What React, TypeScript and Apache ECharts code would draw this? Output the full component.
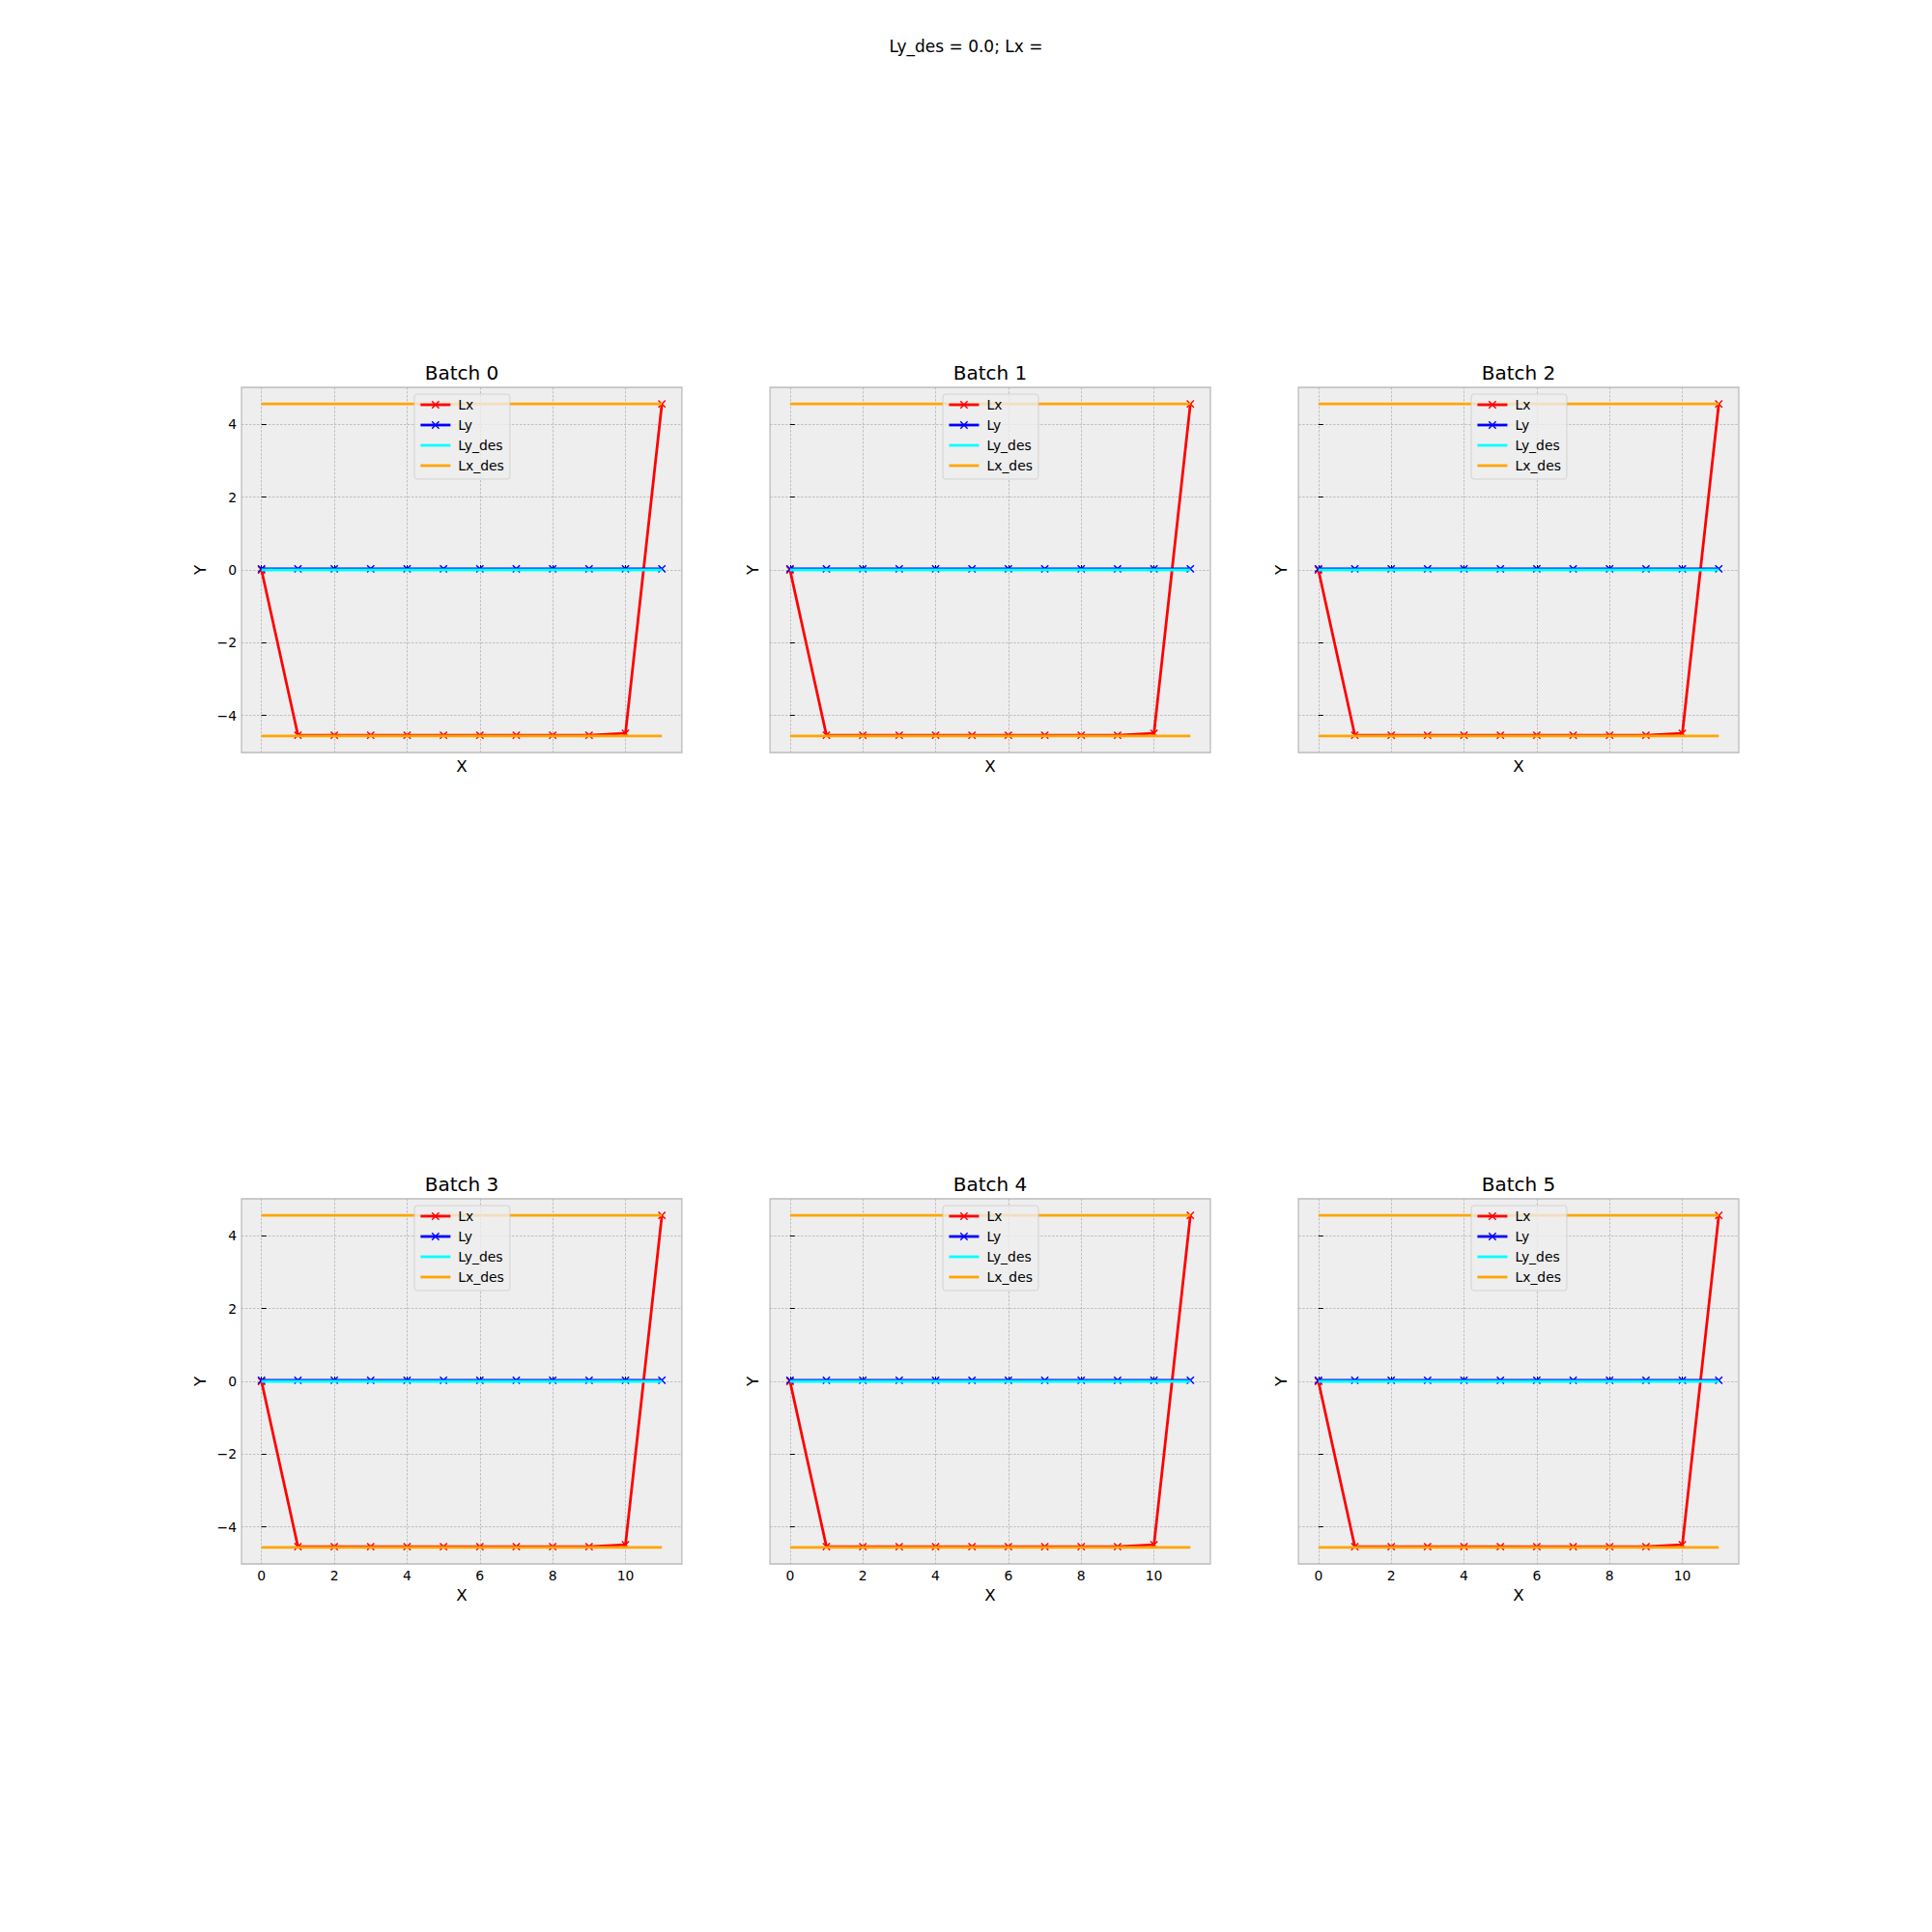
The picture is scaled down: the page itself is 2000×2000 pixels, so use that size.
import React, { useEffect, useRef } from "react";
import * as echarts from "echarts";

// ---- data ----
const X_VALUES = [0, 1, 2, 3, 4, 5, 6, 7, 8, 9, 10, 11];
const LX = [0, -4.54, -4.54, -4.54, -4.54, -4.54, -4.54, -4.54, -4.54, -4.54, -4.49, 4.56];
const LY = [0.03, 0.03, 0.03, 0.03, 0.03, 0.03, 0.03, 0.03, 0.03, 0.03, 0.03, 0.03];
const DES_X = [0, 11];
const LY_DES = [0, 0];
const LX_DES_UPPER = [4.56, 4.56];
const LX_DES_LOWER = [-4.56, -4.56];
const BATCHES = ["Batch 0", "Batch 1", "Batch 2", "Batch 3", "Batch 4", "Batch 5"];
const X_TICKS = [0, 2, 4, 6, 8, 10];
const Y_TICKS = [-4, -2, 0, 2, 4];
const LEGEND_MARKED = ["Lx", "Ly"];
const LEGEND_PLAIN = ["Ly_des", "Lx_des"];
const SUPTITLE = "Ly_des = 0.0; Lx =";

// ---- layout ----
const COL_LEFT = [250, 797.1, 1344.1];
const ROW_TOP = [401, 1241];
const W = 455.9;
const H = 378;
const X_MIN = -0.55;
const X_MAX = 11.55;
const Y_MIN = -5.016;
const Y_MAX = 5.016;
const FONT = "DejaVu Sans";
const LW = 2.78;

const X_MARK =
  "path://M0,1.2L1.2,0L5,3.8L8.8,0L10,1.2L6.2,5L10,8.8L8.8,10L5,6.2L1.2,10L0,8.8L3.8,5Z";

const fmt = (v: number) => (v < 0 ? "\u2212" + Math.abs(v) : String(v));
const pairs = (xs: number[], ys: number[]) => xs.map((x, i) => [x, ys[i]]);

function buildOption() {
  const grids: any[] = [];
  const xAxes: any[] = [];
  const yAxes: any[] = [];
  const series: any[] = [];
  const legends: any[] = [];
  const graphics: any[] = [];

  BATCHES.forEach((title, b) => {
    const row = Math.floor(b / 3);
    const col = b % 3;
    const left = COL_LEFT[col];
    const top = ROW_TOP[row];
    grids.push({
      left,
      top,
      width: W,
      height: H,
      show: true,
      backgroundColor: "#eeeeee",
      borderColor: "#bcbcbc",
      borderWidth: 1.3,
      containLabel: false,
    });
    xAxes.push({
      type: "value",
      gridIndex: b,
      min: X_MIN,
      max: X_MAX,
      name: "X",
      nameLocation: "middle",
      nameGap: row === 1 ? 23 : 5,
      nameTextStyle: { fontSize: 16.7, color: "#000", fontFamily: FONT },
      axisLine: { show: false },
      axisTick: {
        show: true,
        inside: true,
        length: 5,
        customValues: X_TICKS,
        lineStyle: { color: "#000", width: 1 },
      },
      axisLabel: {
        show: row === 1,
        customValues: X_TICKS,
        margin: 5,
        fontSize: 13.9,
        color: "#000",
        fontFamily: FONT,
        formatter: fmt,
      },
      splitLine: {
        show: true,
        lineStyle: { color: "#b2b2b2", width: 0.8, type: [2.5, 1.5] },
      },
    });
    yAxes.push({
      type: "value",
      gridIndex: b,
      min: Y_MIN,
      max: Y_MAX,
      name: "Y",
      nameLocation: "middle",
      nameGap: col === 0 ? 35 : 10,
      nameTextStyle: { fontSize: 16.7, color: "#000", fontFamily: FONT },
      axisLine: { show: false },
      axisTick: {
        show: true,
        inside: true,
        length: 5,
        customValues: Y_TICKS,
        lineStyle: { color: "#000", width: 1 },
      },
      axisLabel: {
        show: col === 0,
        customValues: Y_TICKS,
        margin: 5,
        fontSize: 13.9,
        color: "#000",
        fontFamily: FONT,
        formatter: fmt,
      },
      splitLine: {
        show: true,
        lineStyle: { color: "#b2b2b2", width: 0.8, type: [2.5, 1.5] },
      },
    });

    const common = {
      type: "line",
      xAxisIndex: b,
      yAxisIndex: b,
      emphasis: { disabled: true },
      silent: true,
    };
    series.push({
      ...common,
      name: "Lx",
      z: 2,
      data: pairs(X_VALUES, LX),
      symbol: X_MARK,
      symbolSize: 8.33,
      showSymbol: true,
      lineStyle: { color: "#ff0000", width: LW },
      itemStyle: { color: "#ff0000", borderWidth: 0 },
    });
    series.push({
      ...common,
      name: "Ly",
      z: 3,
      data: pairs(X_VALUES, LY),
      symbol: X_MARK,
      symbolSize: 8.33,
      showSymbol: true,
      lineStyle: { color: "#0000ff", width: LW },
      itemStyle: { color: "#0000ff", borderWidth: 0 },
    });
    series.push({
      ...common,
      name: "Ly_des",
      z: 4,
      data: pairs(DES_X, LY_DES),
      symbol: "none",
      lineStyle: { color: "#00ffff", width: LW },
      itemStyle: { color: "#00ffff" },
    });
    series.push({
      ...common,
      name: "Lx_des",
      z: 5,
      data: pairs(DES_X, LX_DES_UPPER),
      symbol: "none",
      lineStyle: { color: "#ffa500", width: LW },
      itemStyle: { color: "#ffa500" },
    });
    series.push({
      ...common,
      name: "Lx_des",
      z: 5,
      data: pairs(DES_X, LX_DES_LOWER),
      symbol: "none",
      lineStyle: { color: "#ffa500", width: LW },
      itemStyle: { color: "#ffa500" },
    });

    legends.push({
      data: [
        ...LEGEND_MARKED.map((name) => ({ name, lineStyle: { width: LW } })),
        ...LEGEND_PLAIN.map((name) => ({
          name,
          itemStyle: { opacity: 0 },
          lineStyle: { width: LW, opacity: 1 },
        })),
      ],
      orient: "vertical",
      left: left + W / 2 - 49,
      top: top + 7,
      itemWidth: 31,
      itemHeight: 10.4,
      itemGap: 7,
      padding: [4, 6, 7, 5],
      backgroundColor: "rgba(238,238,238,0.8)",
      borderColor: "rgba(204,204,204,0.8)",
      borderWidth: 1,
      borderRadius: 3,
      selectedMode: false,
      z: 10,
      textStyle: {
        fontSize: 13.9,
        lineHeight: 14,
        color: "#000",
        fontFamily: FONT,
        padding: [0, 0, 0, 3],
      },
    });

    graphics.push({
      type: "text",
      x: left + W / 2,
      y: top - 15.5,
      style: {
        text: title,
        fontSize: 20,
        fontFamily: FONT,
        fill: "#000",
        align: "center",
        verticalAlign: "middle",
      },
    });
  });

  graphics.push({
    type: "text",
    x: 1000,
    y: 48,
    style: {
      text: SUPTITLE,
      fontSize: 17,
      fontFamily: FONT,
      fill: "#000",
      align: "center",
      verticalAlign: "middle",
    },
  });

  return {
    animation: false,
    backgroundColor: "#ffffff",
    textStyle: { fontFamily: FONT },
    grid: grids,
    xAxis: xAxes,
    yAxis: yAxes,
    legend: legends,
    series,
    graphic: graphics,
  };
}

export default function App() {
  const ref = useRef<HTMLDivElement>(null);
  useEffect(() => {
    if (!ref.current) return;
    const chart = echarts.init(ref.current, undefined, { renderer: "svg" });
    chart.setOption(buildOption() as any);
    return () => chart.dispose();
  }, []);
  return (
    <div
      ref={ref}
      style={{ position: "absolute", left: 0, top: 0, width: 2000, height: 2000 }}
    />
  );
}
